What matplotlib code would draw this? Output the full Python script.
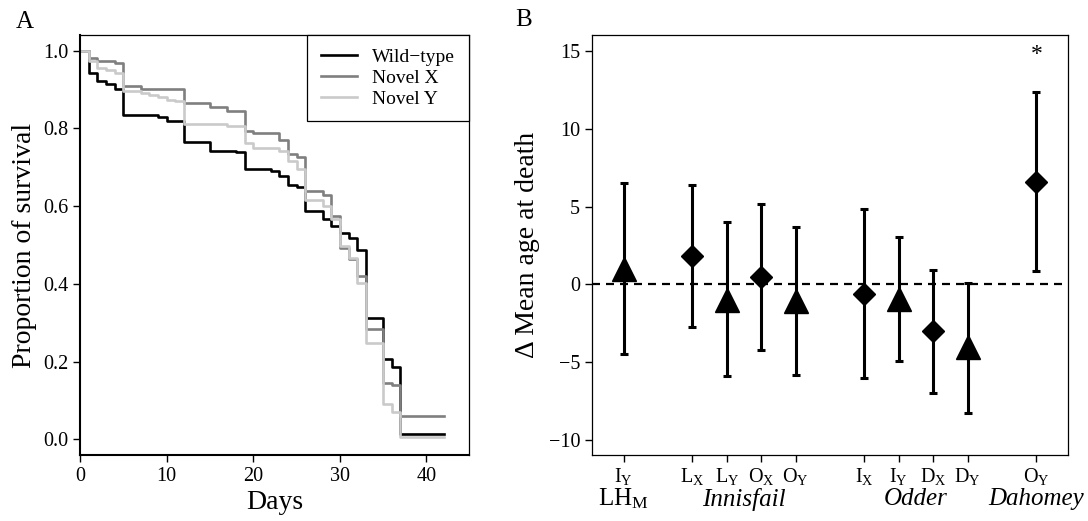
import numpy as np
import matplotlib
matplotlib.use("Agg")
import matplotlib.pyplot as plt

plt.rcParams['font.family'] = ['Liberation Serif', 'DejaVu Serif']
plt.rcParams['mathtext.fontset'] = 'custom'
plt.rcParams['mathtext.rm'] = 'Liberation Serif'
plt.rcParams['mathtext.it'] = 'Liberation Serif:italic'

# ---------------- panel A data: survival curves (step, post) ----------------
wt_days = [0, 1, 2, 3, 4, 5, 9, 10, 12, 15, 18, 19, 22, 23, 24, 25, 26, 28, 29,
           30, 31, 32, 33, 35, 36, 37, 42]
wt_surv = [1.0, 0.943, 0.921, 0.915, 0.90, 0.835, 0.83, 0.82, 0.765, 0.742, 0.738,
           0.696, 0.69, 0.677, 0.655, 0.648, 0.587, 0.566, 0.548, 0.532, 0.519,
           0.488, 0.311, 0.207, 0.187, 0.015, 0.015]

nx_days = [0, 1, 2, 4, 5, 7, 12, 15, 17, 19, 20, 23, 24, 25, 26, 28, 29, 30, 31,
           32, 33, 35, 36, 37, 42]
nx_surv = [1.0, 0.981, 0.973, 0.967, 0.91, 0.90, 0.865, 0.855, 0.844, 0.793, 0.788,
           0.771, 0.733, 0.727, 0.638, 0.628, 0.574, 0.493, 0.463, 0.42, 0.285,
           0.146, 0.14, 0.06, 0.06]

ny_days = [0, 1, 2, 3, 4, 5, 7, 8, 9, 10, 11, 12, 17, 19, 20, 23, 24, 25, 26, 28,
           29, 30, 31, 32, 33, 35, 36, 37, 42]
ny_surv = [1.0, 0.973, 0.955, 0.949, 0.942, 0.895, 0.891, 0.885, 0.881, 0.874, 0.87,
           0.812, 0.805, 0.763, 0.75, 0.741, 0.715, 0.696, 0.617, 0.60, 0.566, 0.497,
           0.467, 0.403, 0.249, 0.09, 0.07, 0.005, 0.005]

series_labels = ['Wild\u2212type', 'Novel X', 'Novel Y']

# ---------------- panel B data: delta mean age at death ----------------
b_pos = [1, 3, 4, 5, 6, 8, 9, 10, 11, 13]
b_ticklabels = [r'I$_\mathrm{Y}$', r'L$_\mathrm{X}$', r'L$_\mathrm{Y}$', r'O$_\mathrm{X}$',
                r'O$_\mathrm{Y}$', r'I$_\mathrm{X}$', r'I$_\mathrm{Y}$', r'D$_\mathrm{X}$',
                r'D$_\mathrm{Y}$', r'O$_\mathrm{Y}$']
b_mean = [1.0, 1.8, -1.0, 0.47, -1.05, -0.6, -0.95, -3.0, -4.05, 6.6]
b_low = [-4.5, -2.72, -5.9, -4.2, -5.85, -6.0, -4.93, -6.97, -8.25, 0.87]
b_high = [6.5, 6.42, 4.0, 5.15, 3.7, 4.84, 3.06, 0.96, 0.1, 12.34]
b_shape = ['^', 'D', '^', 'D', '^', 'D', '^', 'D', '^', 'D']
groups = ['LH$_\\mathrm{M}$', 'Innisfail', 'Odder', 'Dahomey']
group_pos = [1, 4.5, 9.5, 13]
group_italic = [False, True, True, True]

fig = plt.figure(figsize=(10.88, 5.21), dpi=100)

# ---------------- panel A ----------------
axA = fig.add_axes([0.0735, 0.1267, 0.3575, 0.8061])
colors = ['black', '#7f7f7f', '#cacaca']
for d, s, c, lab in zip([wt_days, nx_days, ny_days], [wt_surv, nx_surv, ny_surv],
                        colors, series_labels):
    axA.step(d, s, where='post', color=c, linewidth=1.9, label=lab)
axA.set_xlim(0, 44.9)
axA.set_ylim(-0.04, 1.04)
axA.set_xticks([0, 10, 20, 30, 40])
axA.set_yticks([0.0, 0.2, 0.4, 0.6, 0.8, 1.0])
axA.set_yticklabels(['0.0', '0.2', '0.4', '0.6', '0.8', '1.0'])
axA.tick_params(labelsize=14.5, length=5, direction='out', width=1)
axA.set_xlabel('Days', fontsize=20, labelpad=3)
axA.set_ylabel('Proportion of survival', fontsize=20, labelpad=4)
for sp in ['left', 'bottom']:
    axA.spines[sp].set_linewidth(1.5)
for sp in ['top', 'right']:
    axA.spines[sp].set_linewidth(0.9)
leg = axA.legend(loc='upper right', bbox_to_anchor=(1, 1), borderaxespad=0,
                 fontsize=14, fancybox=False, edgecolor='black', framealpha=1,
                 handlelength=1.85, handletextpad=0.8, labelspacing=0.16,
                 borderpad=0.7)
leg.get_frame().set_linewidth(0.9)
fig.text(0.023, 0.957, 'A', fontsize=18, ha='center', va='center')

# ---------------- panel B ----------------
axB = fig.add_axes([0.5441, 0.1267, 0.4375, 0.8061])
axB.axhline(0, color='black', linestyle=(0, (3.6, 2.7)), linewidth=1.6, zorder=1)
for x, m, lo, hi, mk in zip(b_pos, b_mean, b_low, b_high, b_shape):
    axB.errorbar([x], [m], yerr=[[m - lo], [hi - m]], fmt='none', ecolor='black',
                 elinewidth=2.2, capsize=2.6, capthick=2.2, zorder=2)
    axB.plot([x], [m], marker=mk, color='black', linestyle='none',
             markersize=17 if mk == '^' else 11.5, zorder=3)
axB.text(13, 14.8, '*', fontsize=17, ha='center', va='center')
axB.set_xlim(0.08, 13.92)
axB.set_ylim(-10.96, 16.03)
axB.set_yticks([-10, -5, 0, 5, 10, 15])
axB.set_yticklabels(['\u221210', '\u22125', '0', '5', '10', '15'])
axB.set_xticks(b_pos)
axB.set_xticklabels(b_ticklabels)
axB.tick_params(labelsize=14.5, length=5, direction='out', width=1)
axB.tick_params(axis='x', pad=3)
axB.set_ylabel('\u0394 Mean age at death', fontsize=20, labelpad=6)
for sp in axB.spines.values():
    sp.set_linewidth(0.9)
for g, gx, it in zip(groups, group_pos, group_italic):
    axB.text(gx, -0.105, g, transform=axB.get_xaxis_transform(), fontsize=18,
             ha='center', va='center', style='italic' if it else 'normal')
fig.text(0.481, 0.962, 'B', fontsize=18, ha='center', va='center')

fig.savefig('out.png', dpi=100)
